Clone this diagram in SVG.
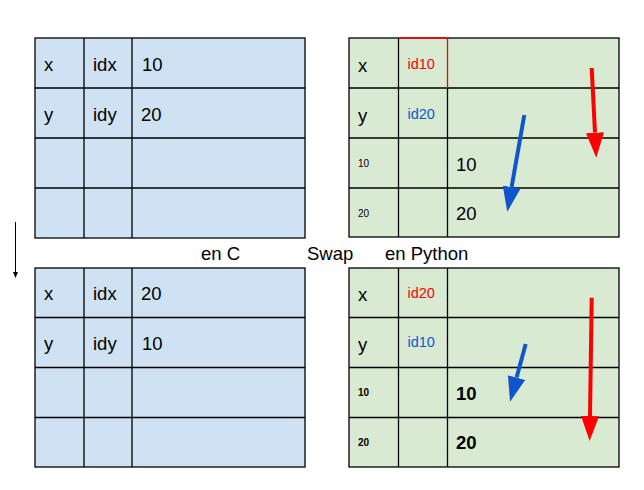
<svg xmlns="http://www.w3.org/2000/svg" width="644" height="490" viewBox="0 0 644 490">
<style>
.b{fill:#cfe2f3;stroke:#000;stroke-width:1.3}
.g{fill:#d9ead3;stroke:#000;stroke-width:1.3}
.ln{stroke:#000;stroke-width:1.3;fill:none}
text{font-family:"Liberation Sans",Arial,sans-serif;fill:#000}
.t{font-size:18.5px}
.s{font-size:10px}
.m{font-size:14.5px}
.bd{font-weight:bold}
.red{fill:#ff0000}
.blu{fill:#1155cc}
</style>
<defs>
<marker id="hr" viewBox="0 0 25 18" refX="0" refY="9" markerWidth="25" markerHeight="18" markerUnits="userSpaceOnUse" orient="auto"><path d="M0,0 L25,9 L0,18 Z" fill="#ff0000"/></marker>
<marker id="hb" viewBox="0 0 25 18" refX="0" refY="9" markerWidth="25" markerHeight="18" markerUnits="userSpaceOnUse" orient="auto"><path d="M0,0 L25,9 L0,18 Z" fill="#1155cc"/></marker>
<marker id="hk" viewBox="0 0 6 5" refX="0" refY="2.5" markerWidth="6" markerHeight="5" markerUnits="userSpaceOnUse" orient="auto"><path d="M0,0 L6,2.5 L0,5 Z" fill="#000"/></marker>
</defs>

<g id="c-top">
<rect class="b" x="35" y="38" width="270" height="200"/>
<path class="ln" d="M84,38V238M132,38V238M35,88H305M35,138H305M35,188H305"/>
<text class="t" x="44" y="71">x</text>
<text class="t" x="93" y="71">idx</text>
<text class="t" x="142" y="71">10</text>
<text class="t" x="44" y="121">y</text>
<text class="t" x="93" y="121">idy</text>
<text class="t" x="141" y="121">20</text>
</g>

<g id="c-bottom">
<rect class="b" x="35" y="268" width="270" height="199"/>
<path class="ln" d="M84,268V467M132,268V467M35,317.5H305M35,367.5H305M35,417.5H305"/>
<text class="t" x="44" y="300">x</text>
<text class="t" x="93" y="300">idx</text>
<text class="t" x="141" y="300">20</text>
<text class="t" x="44" y="350">y</text>
<text class="t" x="93" y="350">idy</text>
<text class="t" x="142" y="350">10</text>
</g>

<g id="py-top">
<rect class="g" x="349" y="38" width="270" height="199"/>
<path class="ln" d="M398.5,38V237M447.5,88V237M349,88H619M349,138H619M349,188H619"/>
<path d="M398.5,38H447.5V88" fill="none" stroke="#ff0000" stroke-width="1.3"/>
<text class="t" x="358" y="72">x</text>
<text class="m red" x="407.5" y="69">id10</text>
<text class="t" x="358" y="122">y</text>
<text class="m blu" x="407.5" y="119">id20</text>
<text class="s" x="358" y="167">10</text>
<text class="t" x="456" y="171">10</text>
<text class="s" x="358" y="217">20</text>
<text class="t" x="456" y="220">20</text>
</g>

<g id="py-bottom">
<rect class="g" x="349" y="268" width="270" height="199"/>
<path class="ln" d="M398.5,268V467M447.5,268V467M349,317.5H619M349,367.5H619M349,417.5H619"/>
<text class="t" x="358" y="301">x</text>
<text class="m red" x="407.5" y="298">id20</text>
<text class="t" x="358" y="351">y</text>
<text class="m blu" x="407.5" y="347">id10</text>
<text class="s bd" x="358" y="396">10</text>
<text class="t bd" x="456" y="400">10</text>
<text class="s bd" x="358" y="446">20</text>
<text class="t bd" x="456" y="449">20</text>
</g>

<g id="labels">
<text class="t" x="201" y="260">en C</text>
<text class="t" x="307" y="260">Swap</text>
<text class="t" x="385" y="260">en Python</text>
</g>

<g id="connectors">
<line x1="15.5" y1="222" x2="15.5" y2="272" stroke="#000" stroke-width="1" marker-end="url(#hk)"/>
<line x1="591.7" y1="68" x2="595" y2="132.7" stroke="#ff0000" stroke-width="4" marker-end="url(#hr)"/>
<line x1="524.3" y1="115" x2="511.6" y2="187.1" stroke="#1155cc" stroke-width="4" marker-end="url(#hb)"/>
<line x1="591.7" y1="297.7" x2="590" y2="416" stroke="#ff0000" stroke-width="4" marker-end="url(#hr)"/>
<line x1="525.7" y1="344" x2="516.6" y2="377.6" stroke="#1155cc" stroke-width="4" marker-end="url(#hb)"/>
</g>
</svg>
